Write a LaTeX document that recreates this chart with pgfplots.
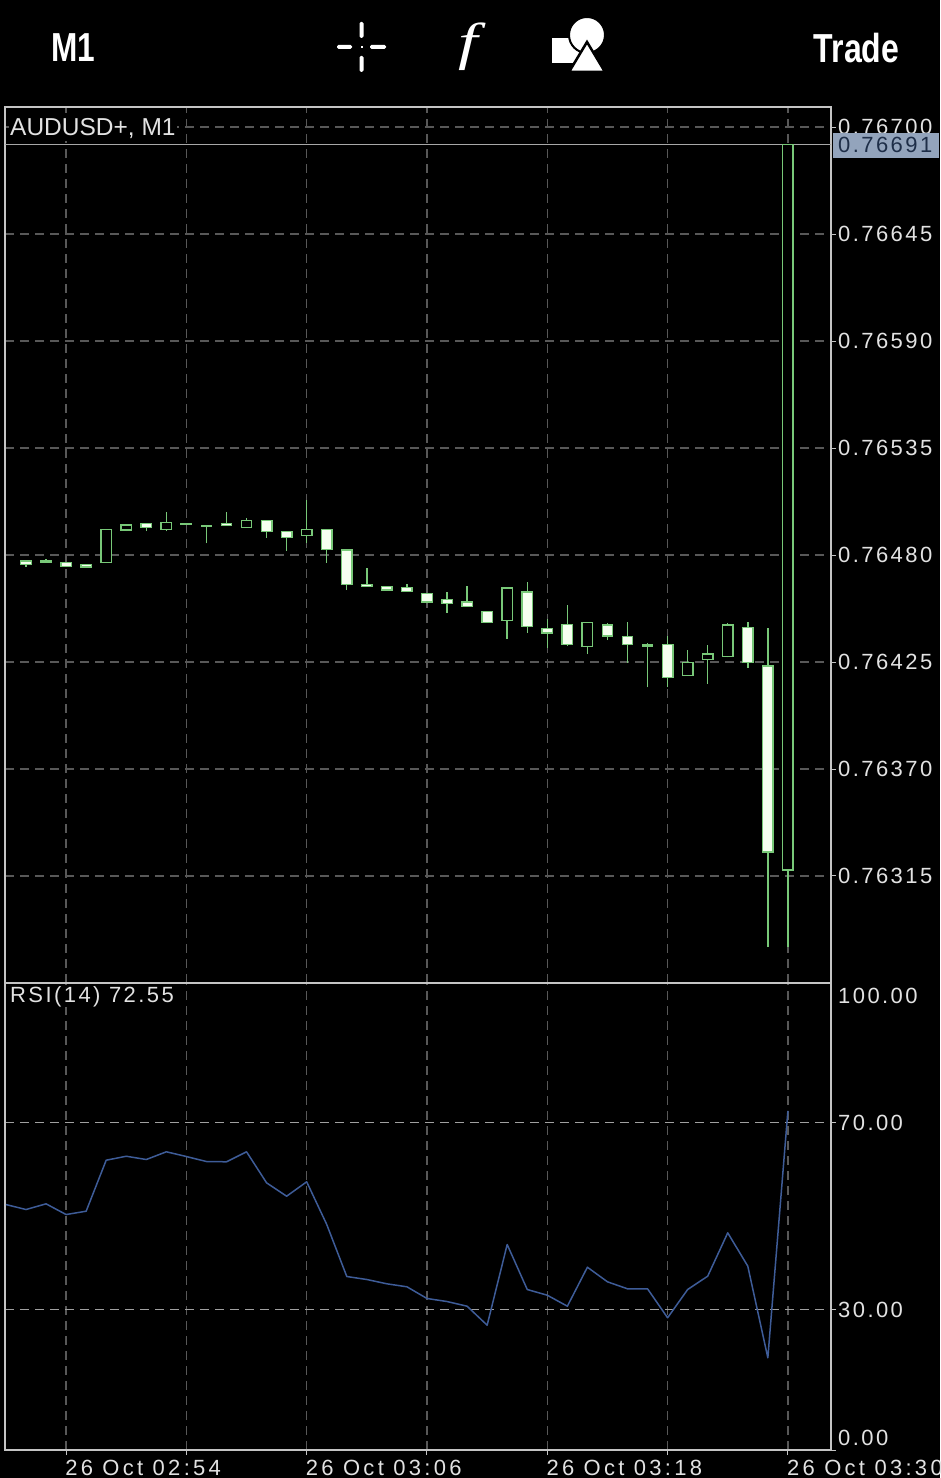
\documentclass[border=0pt]{standalone}
\usepackage{pgfplots}
\usepackage{fontspec}
\pgfplotsset{compat=1.18}
\setmainfont{Liberation Sans}
\newfontfamily\tickfam[LetterSpace=11]{Liberation Sans}
\newfontfamily\xtickfam[LetterSpace=15]{Liberation Sans}
\newfontfamily\fserif{Liberation Serif}
\newcommand\tf{\tickfam\fontsize{22}{22}\selectfont}
\newcommand\xtf{\xtickfam\fontsize{22}{22}\selectfont}
\definecolor{frameC}{HTML}{C4C4C4}
\definecolor{gridC}{HTML}{585858}
\definecolor{gridH}{HTML}{A0A0A0}
\definecolor{txt}{HTML}{E2E2E2}
\definecolor{wick}{HTML}{78C878}
\definecolor{bear}{HTML}{F6FFF0}
\definecolor{rsi}{HTML}{3E5C98}
\definecolor{lab}{HTML}{93A4BC}
\definecolor{labt}{HTML}{1E2E48}
% #1 fill  #2 position  #3 low  #4 body bottom  #5 body top  #6 high
\newcommand\candle[6]{%
  \pgfmathsetmacro\xl{#2-0.26}\pgfmathsetmacro\xr{#2+0.26}%
  \addplot[wick,line width=1.4pt,forget plot] coordinates {(#2,#3)(#2,#6)};
  \addplot[draw=wick,fill=#1,line width=1.4pt,forget plot] coordinates {(\xl,#4)(\xr,#4)(\xr,#5)(\xl,#5)(\xl,#4)} --cycle;
}
\begin{document}
\begin{tikzpicture}
\clip (0pt,0pt) rectangle (940pt,1478pt);
\fill[black] (0pt,0pt) rectangle (940pt,1478pt);
\begin{scope}[x=1pt,y=1pt]
% header
\node[white,anchor=center] at (73,1430) {\scalebox{.78}[1]{\fontsize{40.5}{40}\selectfont\bfseries M1}};
\node[white,anchor=center] at (856.5,1430) {\scalebox{.79}[1]{\fontsize{40.5}{40}\selectfont\bfseries Trade}};
\fill[white,rounded corners=1.5pt] (337,1429) rectangle (352,1433);
\fill[white,rounded corners=1.5pt] (370,1429) rectangle (386,1433);
\fill[white,rounded corners=1.5pt] (359.5,1440) rectangle (363.5,1456);
\fill[white,rounded corners=1.5pt] (359.5,1406) rectangle (363.5,1422);
\fill[white] (360.5,1430) rectangle (362.5,1432);
\node[white,anchor=center] at (468,1431) {\scalebox{1.35}[1]{\fserif\fontsize{52}{52}\selectfont\itshape f}};
\fill[white] (552,1415) rectangle (585,1440);
\fill[white,draw=black,line width=2pt] (587,1443) circle (18);
\fill[white,draw=black,line width=2.5pt] (587,1436) -- (605,1406) -- (569,1406) -- cycle;
\end{scope}
% price panel
\begin{axis}[at={(5pt,495pt)},anchor=south west,scale only axis,width=826pt,height=876pt,
  xmin=-1.047,xmax=40.15,ymin=0.762600,ymax=0.767103,
  axis line style={color=frameC,line width=1.3pt},
  xtick={2,8,14,20,26,32,38},xticklabels={},
  xtick style={draw=none},
  ytick={0.76315,0.76370,0.76425,0.76480,0.76535,0.76590,0.76645,0.76700},
  yticklabels={0.76315,0.76370,0.76425,0.76480,0.76535,0.76590,0.76645,0.76700},
  ytick pos=right,yticklabel pos=right,
  ytick style={color=frameC,line width=1pt},
  major tick length=5pt,tick align=outside,
  yticklabel style={font=\tf,text=txt,inner xsep=0pt,xshift=2pt},
  xmajorgrids,ymajorgrids,
  x grid style={color=gridC,line width=1.2pt,dash pattern=on 9pt off 6pt},
  y grid style={color=gridC,line width=1.4pt,dash pattern=on 9pt off 6pt},
]
\addplot[frameC!85!black,line width=1.1pt,forget plot] coordinates {(-1.047,0.76691)(40.15,0.76691)};
\candle{bear}{0}{0.764740}{0.764752}{0.764769}{0.764769}
\candle{bear}{1}{0.764761}{0.764762}{0.764769}{0.764779}
\candle{bear}{2}{0.764740}{0.764740}{0.764760}{0.764760}
\candle{bear}{3}{0.764738}{0.764738}{0.764750}{0.764750}
\candle{black}{4}{0.764760}{0.764760}{0.764932}{0.764932}
\candle{black}{5}{0.764923}{0.764929}{0.764954}{0.764959}
\candle{bear}{6}{0.764923}{0.764942}{0.764963}{0.764964}
\candle{black}{7}{0.764922}{0.764932}{0.764968}{0.765023}
\candle{bear}{8}{0.764954}{0.764959}{0.764962}{0.764966}
\candle{bear}{9}{0.764860}{0.764949}{0.764953}{0.764954}
\candle{bear}{10}{0.764951}{0.764951}{0.764963}{0.765023}
\candle{black}{11}{0.764942}{0.764942}{0.764978}{0.764992}
\candle{bear}{12}{0.764889}{0.764922}{0.764976}{0.764976}
\candle{bear}{13}{0.764821}{0.764889}{0.764920}{0.764920}
\candle{black}{14}{0.764862}{0.764901}{0.764930}{0.765083}
\candle{bear}{15}{0.764760}{0.764829}{0.764930}{0.764930}
\candle{bear}{16}{0.764620}{0.764649}{0.764826}{0.764826}
\candle{bear}{17}{0.764637}{0.764637}{0.764649}{0.764732}
\candle{bear}{18}{0.764620}{0.764620}{0.764639}{0.764639}
\candle{bear}{19}{0.764611}{0.764611}{0.764632}{0.764649}
\candle{bear}{20}{0.764558}{0.764558}{0.764601}{0.764601}
\candle{bear}{21}{0.764503}{0.764552}{0.764570}{0.764611}
\candle{bear}{22}{0.764534}{0.764534}{0.764558}{0.764642}
\candle{bear}{23}{0.764452}{0.764452}{0.764511}{0.764511}
\candle{black}{24}{0.764368}{0.764462}{0.764630}{0.764630}
\candle{bear}{25}{0.764401}{0.764431}{0.764610}{0.764660}
\candle{bear}{26}{0.764324}{0.764399}{0.764421}{0.764469}
\candle{bear}{27}{0.764334}{0.764341}{0.764442}{0.764543}
\candle{black}{28}{0.764291}{0.764331}{0.764452}{0.764457}
\candle{bear}{29}{0.764363}{0.764384}{0.764440}{0.764452}
\candle{bear}{30}{0.764246}{0.764341}{0.764382}{0.764457}
\candle{bear}{31}{0.764120}{0.764332}{0.764340}{0.764349}
\candle{bear}{32}{0.764120}{0.764171}{0.764341}{0.764384}
\candle{black}{33}{0.764180}{0.764180}{0.764248}{0.764312}
\candle{black}{34}{0.764137}{0.764264}{0.764291}{0.764337}
\candle{black}{35}{0.764274}{0.764277}{0.764440}{0.764452}
\candle{bear}{36}{0.764218}{0.764248}{0.764428}{0.764454}
\candle{bear}{37}{0.762785}{0.763273}{0.764229}{0.764425}
\candle{black}{38}{0.762785}{0.763181}{0.766910}{0.766910}
\end{axis}
% RSI panel
\begin{axis}[at={(5pt,28pt)},anchor=south west,scale only axis,width=826pt,height=467pt,
  xmin=-1.047,xmax=40.15,ymin=0,ymax=99.9,
  axis line style={color=frameC,line width=1.3pt},
  xtick={2,8,14,20,26,32,38},
  xticklabels={26 Oct 02:54,,26 Oct 03:06,,26 Oct 03:18,,26 Oct 03:30},
  xticklabel style={font=\xtf,text=txt,anchor=north west,inner sep=0pt,yshift=-5pt,xshift=-1pt},
  ytick={0,30,70,100},yticklabels={,30.00,70.00,},
  ytick pos=right,yticklabel pos=right,
  xtick pos=bottom,
  tick style={color=frameC,line width=1pt},
  major tick length=5pt,tick align=outside,
  yticklabel style={font=\tf,text=txt,inner xsep=0pt,xshift=2pt},
  xmajorgrids,ymajorgrids,
  x grid style={color=gridC,line width=1.2pt,dash pattern=on 9pt off 6pt},
  y grid style={color=gridH,line width=1.4pt,dash pattern=on 9pt off 6pt},
]
\addplot[rsi,line width=1.5pt,line join=round,forget plot] coordinates {
(-1,52.51)(0,51.44)(1,52.66)(2,50.37)(3,51.08)(4,61.99)(5,62.84)(6,62.14)
(7,63.79)(8,62.78)(9,61.71)(10,61.65)(11,63.79)(12,57.15)(13,54.29)(14,57.37)
(15,48.24)(16,37.11)(17,36.47)(18,35.55)(19,34.91)(20,32.41)(21,31.76)(22,30.76)
(23,26.70)(24,43.96)(25,34.33)(26,33.11)(27,30.76)(28,39.10)(29,35.98)(30,34.48)
(31,34.48)(32,28.28)(33,34.33)(34,37.18)(35,46.46)(36,39.32)(37,19.72)(38,72.55)};
\end{axis}
\begin{scope}[x=1pt,y=1pt]
% labels over the panels
\node[fill=black,text=txt,anchor=west,inner xsep=1pt,inner ysep=2pt] at (9,1349.5) {\fontsize{24.5}{24}\selectfont AUDUSD+, M1};
\node[fill=black,text=txt,anchor=west,inner xsep=1pt,inner ysep=0pt] at (9,481) {\tf RSI(14) 72.55};
\node[text=txt,anchor=west,inner sep=0pt] at (838,482) {\tf 100.00};
\node[text=txt,anchor=west,inner sep=0pt] at (838,40) {\tf 0.00};
\fill[lab] (833,1320) rectangle (939,1345);
\node[text=labt,anchor=west,inner sep=0pt] at (838,1333) {\tf 0.76691};
\end{scope}
\end{tikzpicture}
\end{document}
